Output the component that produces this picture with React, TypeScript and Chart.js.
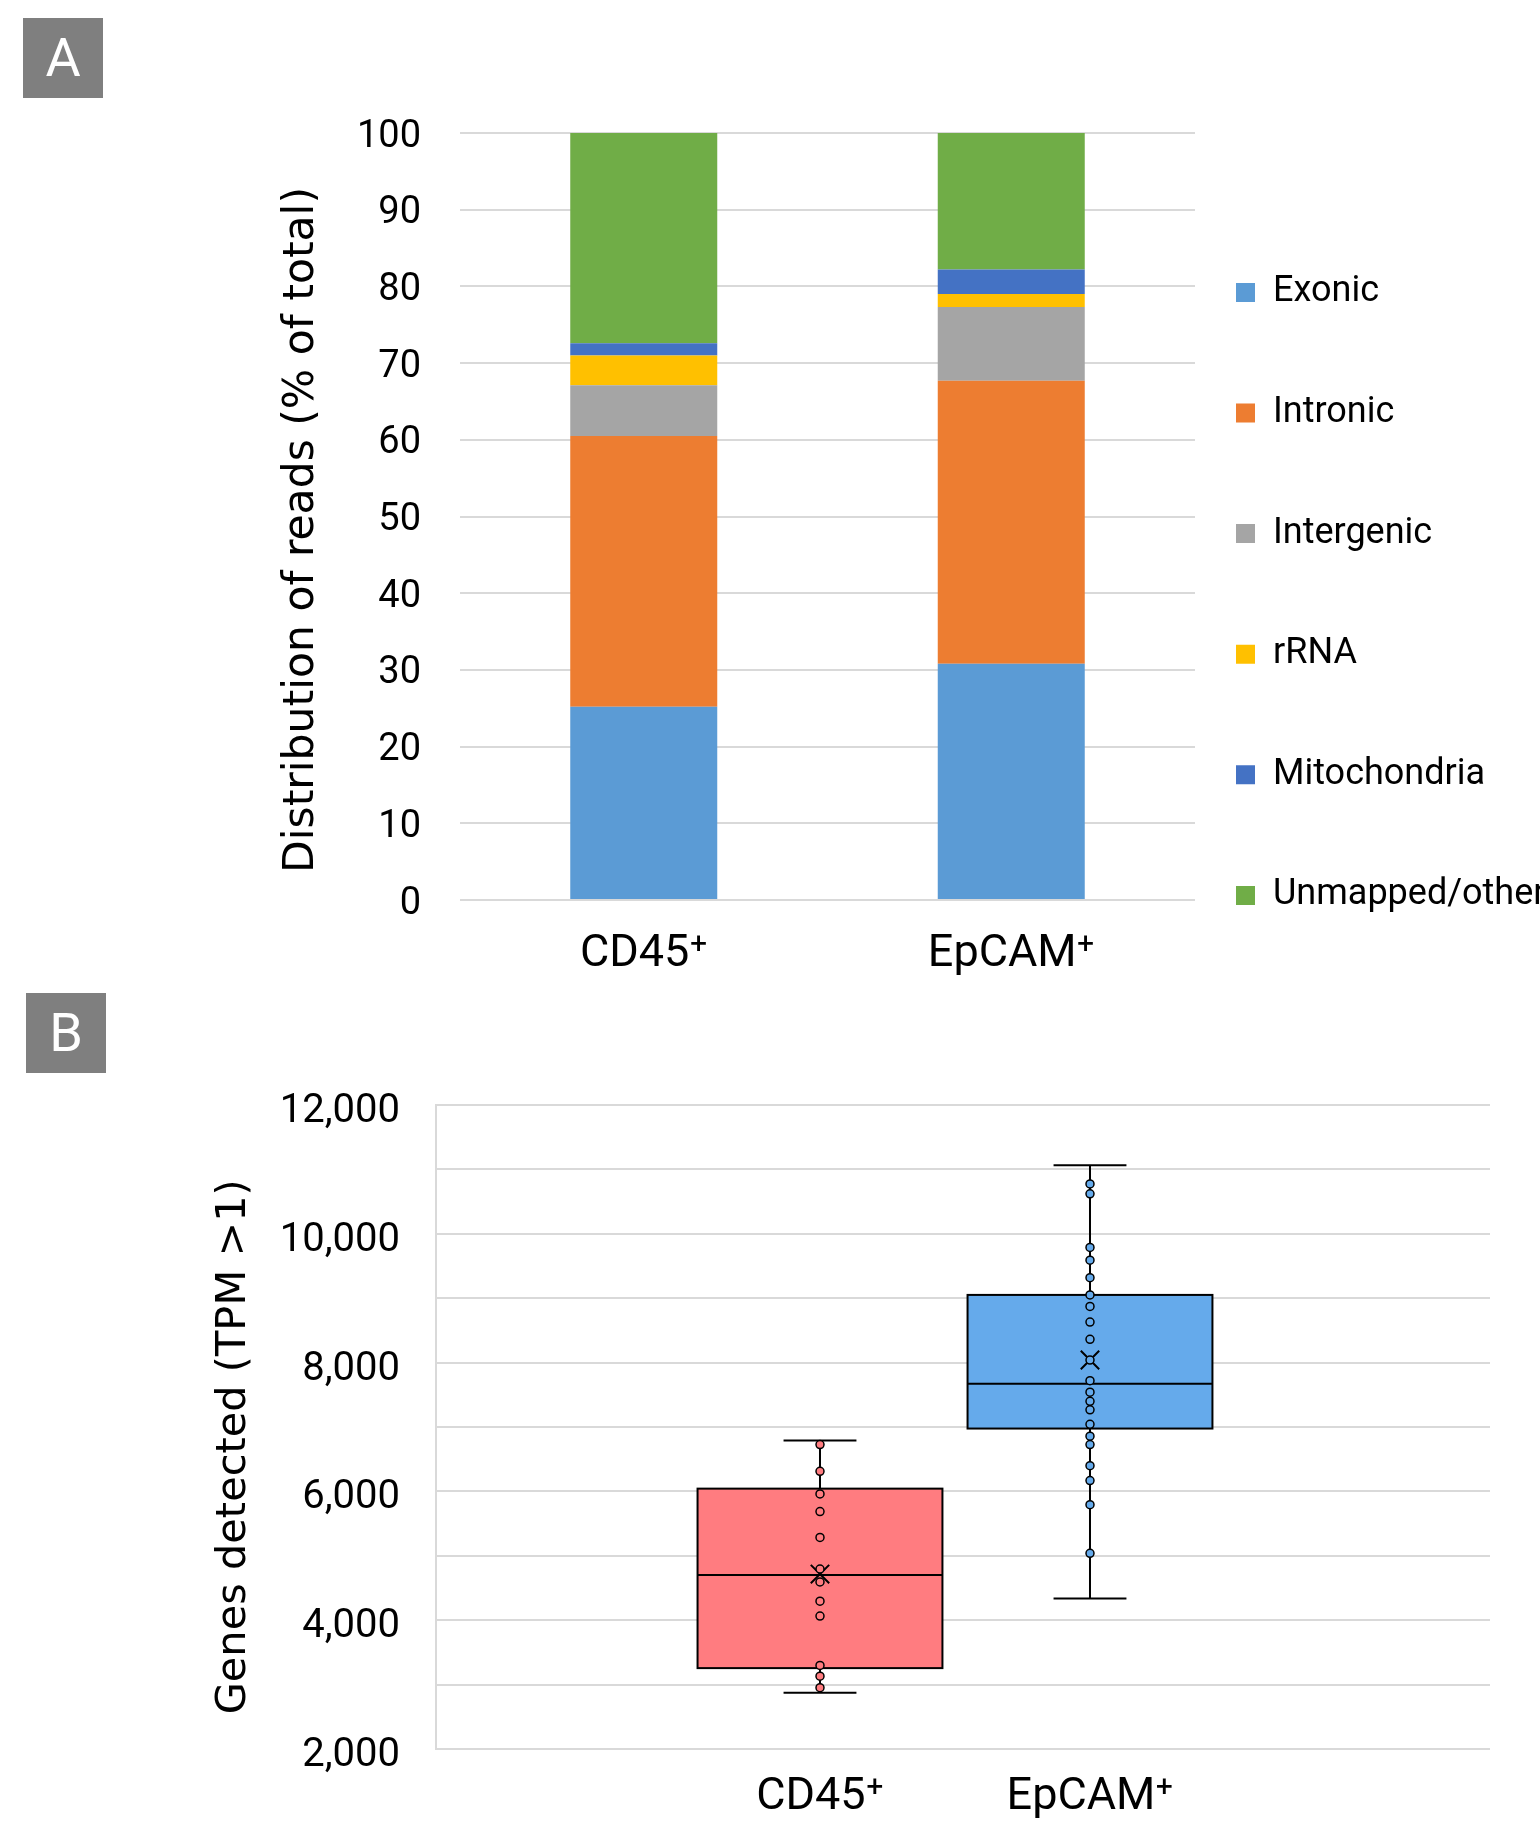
import React, { useEffect, useRef } from 'react';
import { Chart, registerables } from 'chart.js';

Chart.register(...registerables);

// ---------- Panel A data ----------
const readCategories = ['CD45⁺', 'EpCAM⁺'];
const readSeriesNames = ['Exonic', 'Intronic', 'Intergenic', 'rRNA', 'Mitochondria', 'Unmapped/other'];
const exonic = [25.2, 30.8];
const intronic = [35.3, 36.9];
const intergenic = [6.6, 9.6];
const rRNA = [3.9, 1.7];
const mitochondria = [1.6, 3.2];
const unmappedOther = [27.4, 17.8];
const readColors = ['#5B9BD5', '#ED7D31', '#A5A5A5', '#FFC000', '#4472C4', '#70AD47'];

// ---------- Panel B data ----------
const geneGroups = ['CD45⁺', 'EpCAM⁺'];
const cd45Genes = [6727, 6311, 5960, 5687, 5285, 4795, 4593, 4296, 4064, 3298, 3131, 2953];
const epcamGenes = [10774, 10620, 9788, 9591, 9318, 9051, 8872, 8629, 8361, 8040, 7719, 7541, 7398, 7267, 7042, 6857, 6727, 6400, 6168, 5793, 5039];
const geneMin = [2875, 4337];
const geneQ1 = [3256, 6976];
const geneMedian = [4700, 7672];
const geneQ3 = [6043, 9051];
const geneMax = [6792, 11065];
const geneMean = [4717, 8040];
const geneTickLabels = [2000, 4000, 6000, 8000, 10000, 12000];
const geneColors = ['#FF7C80', '#65AAEB'];

const BOX_WIDTH_UNITS = 0.907;
const CAP_WIDTH_UNITS = 0.27;
const PLOT_A_RIGHT = 1195;

const boxPlugin = {
  id: 'boxWhisker',
  beforeDatasetsDraw(chart: any) {
    const { ctx, scales } = chart;
    const x = scales.x;
    const y = scales.y;
    geneGroups.forEach((_, i) => {
      const cx = x.getPixelForValue(i + 1);
      const half = Math.abs(x.getPixelForValue(i + 1 + BOX_WIDTH_UNITS / 2) - cx);
      const capHalf = Math.abs(x.getPixelForValue(i + 1 + CAP_WIDTH_UNITS / 2) - cx);
      const yMin = y.getPixelForValue(geneMin[i]);
      const yQ1 = y.getPixelForValue(geneQ1[i]);
      const yMed = y.getPixelForValue(geneMedian[i]);
      const yQ3 = y.getPixelForValue(geneQ3[i]);
      const yMax = y.getPixelForValue(geneMax[i]);
      ctx.save();
      ctx.lineWidth = 2;
      ctx.strokeStyle = '#000';
      ctx.beginPath();
      ctx.moveTo(cx, yMax);
      ctx.lineTo(cx, yQ3);
      ctx.moveTo(cx, yQ1);
      ctx.lineTo(cx, yMin);
      ctx.moveTo(cx - capHalf, yMax);
      ctx.lineTo(cx + capHalf, yMax);
      ctx.moveTo(cx - capHalf, yMin);
      ctx.lineTo(cx + capHalf, yMin);
      ctx.stroke();
      ctx.fillStyle = geneColors[i];
      ctx.fillRect(cx - half, yQ3, 2 * half, yQ1 - yQ3);
      ctx.strokeRect(cx - half, yQ3, 2 * half, yQ1 - yQ3);
      ctx.beginPath();
      ctx.moveTo(cx - half, yMed);
      ctx.lineTo(cx + half, yMed);
      ctx.stroke();
      ctx.restore();
    });
  },
};

const labelBox: React.CSSProperties = {
  position: 'absolute',
  width: 80,
  height: 80,
  background: '#7F7F7F',
  color: '#fff',
  fontFamily: 'Roboto',
  fontSize: 54,
  lineHeight: '80px',
  textAlign: 'center',
};

export default function App() {
  const refA = useRef<HTMLCanvasElement>(null);
  const refB = useRef<HTMLCanvasElement>(null);

  useEffect(() => {
    const series = [exonic, intronic, intergenic, rRNA, mitochondria, unmappedOther];
    const paddingA = { left: 0, top: 133, right: 0, bottom: 0 };
    const chartA = new Chart(refA.current as HTMLCanvasElement, {
      type: 'bar',
      data: {
        labels: readCategories,
        datasets: series.map((s, i) => ({
          label: readSeriesNames[i],
          data: s,
          backgroundColor: readColors[i],
          borderWidth: 0,
          barPercentage: 0.4,
          categoryPercentage: 1,
        })),
      },
      options: {
        animation: false,
        responsive: false,
        maintainAspectRatio: false,
        events: [],
        layout: { padding: paddingA },
        plugins: {
          tooltip: { enabled: false },
          legend: {
            position: 'right',
            align: 'end',
            labels: {
              boxWidth: 19,
              boxHeight: 19,
              padding: 41,
              color: '#000',
              font: { family: 'Roboto', size: 36, lineHeight: 2.2111 },
              generateLabels: (chart: any) =>
                (Chart.defaults.plugins.legend.labels.generateLabels as any)(chart).map((l: any) => ({
                  ...l,
                  text: [l.text],
                })),
            },
          } as any,
        },
        scales: {
          x: {
            stacked: true,
            grid: { display: false },
            border: { display: false },
            ticks: { color: '#000', font: { family: 'Roboto', size: 45 }, padding: 20 },
            afterFit: (s: any) => {
              s.height = 98;
            },
          },
          y: {
            stacked: true,
            min: 0,
            max: 100,
            ticks: { stepSize: 10, color: '#000', font: { family: 'Roboto', size: 38 }, padding: 39, labelOffset: 4 },
            grid: { color: '#D9D9D9', lineWidth: 2, drawTicks: false },
            border: { display: false },
            title: {
              display: true,
              text: 'Distribution of reads (% of total)  ',
              color: '#000',
              font: { family: 'DejaVu Sans', size: 42.5 },
              padding: { top: 276, bottom: 0 },
            },
            afterFit: (s: any) => {
              s.width = 460;
            },
          },
        },
      },
    });
    // keep the plot area's right edge in place next to the legend
    for (let k = 0; k < 6; k++) {
      const dx = chartA.chartArea.right - PLOT_A_RIGHT;
      if (Math.abs(dx) < 0.5) break;
      paddingA.right = Math.max(0, paddingA.right + dx);
      (chartA.options as any).layout.padding = { ...paddingA };
      chartA.update();
    }

    const chartB = new Chart(refB.current as HTMLCanvasElement, {
      type: 'scatter',
      data: {
        datasets: [
          {
            label: 'CD45 points',
            data: cd45Genes.map((v) => ({ x: 1, y: v })),
            pointRadius: 4,
            pointBackgroundColor: geneColors[0],
            pointBorderColor: '#000',
            pointBorderWidth: 1.5,
          },
          {
            label: 'EpCAM points',
            data: epcamGenes.map((v) => ({ x: 2, y: v })),
            pointRadius: 4,
            pointBackgroundColor: geneColors[1],
            pointBorderColor: '#000',
            pointBorderWidth: 1.5,
          },
          {
            label: 'Mean',
            data: geneMean.map((v, i) => ({ x: i + 1, y: v })),
            pointStyle: 'crossRot',
            pointRadius: 13,
            pointBorderColor: '#000',
            pointBorderWidth: 2,
          },
        ],
      },
      options: {
        animation: false,
        responsive: false,
        maintainAspectRatio: false,
        events: [],
        layout: { padding: { left: 209, top: 111, right: 50, bottom: 0 } },
        plugins: { legend: { display: false }, tooltip: { enabled: false } },
        scales: {
          x: {
            type: 'linear',
            min: -0.4222,
            max: 3.4815,
            grid: { display: false },
            border: { display: false },
            afterBuildTicks: (s: any) => {
              s.ticks = geneGroups.map((_, i) => ({ value: i + 1 }));
            },
            ticks: {
              autoSkip: false,
              maxRotation: 0,
              color: '#000',
              font: { family: 'Roboto', size: 45 },
              padding: 14,
              callback: (v: any) => geneGroups[Number(v) - 1] ?? '',
            },
            afterFit: (s: any) => {
              s.height = 79;
            },
          },
          y: {
            min: 2000,
            max: 12000,
            ticks: {
              stepSize: 1000,
              color: '#000',
              font: { family: 'Roboto', size: 40 },
              padding: 36,
              labelOffset: 7,
              callback: (v: any) => (geneTickLabels.includes(Number(v)) ? Number(v).toLocaleString('en-US') : ''),
            },
            grid: { color: '#D9D9D9', lineWidth: 2, drawTicks: false },
            border: { display: true, color: '#D9D9D9', width: 2 },
            title: {
              display: true,
              text: 'Genes detected (TPM >1)   ',
              color: '#000',
              font: { family: 'DejaVu Sans', size: 41.5 },
              padding: 0,
            },
            afterFit: (s: any) => {
              s.width = 227;
            },
          },
        },
      },
      plugins: [boxPlugin],
    });

    return () => {
      chartA.destroy();
      chartB.destroy();
    };
  }, []);

  return (
    <div style={{ position: 'absolute', left: 0, top: 0, width: 1540, height: 1828, overflow: 'hidden', background: '#fff' }}>
      <canvas ref={refB} width={1540} height={834} style={{ position: 'absolute', left: 0, top: 994, width: 1540, height: 834 }} />
      <canvas ref={refA} width={1600} height={998} style={{ position: 'absolute', left: 0, top: 0, width: 1600, height: 998 }} />
      <div style={{ ...labelBox, left: 23, top: 18 }}>A</div>
      <div style={{ ...labelBox, left: 26, top: 993 }}>B</div>
    </div>
  );
}
